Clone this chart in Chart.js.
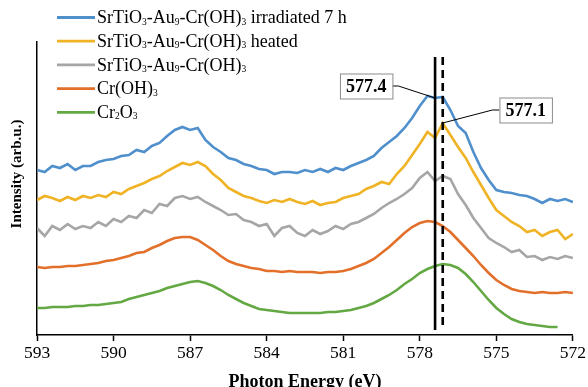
<!DOCTYPE html>
<html>
<head>
<meta charset="utf-8">
<title>Cr L-edge XANES</title>
<script src="https://cdn.jsdelivr.net/npm/chart.js@4.4.1/dist/chart.umd.min.js"></script>
<style>
  html, body { margin: 0; padding: 0; background: #fff; }
</style>
</head>
<body>
<canvas id="xanesChart" width="588" height="387"></canvas>
<script>
// Photon energy grid (eV), 0.3 eV steps from 593 down to 572
const energies = [
  593.0, 592.7, 592.4, 592.1, 591.8, 591.5, 591.2, 590.9, 590.6, 590.3,
  590.0, 589.7, 589.4, 589.1, 588.8, 588.5, 588.2, 587.9, 587.6, 587.3,
  587.0, 586.7, 586.4, 586.1, 585.8, 585.5, 585.2, 584.9, 584.6, 584.3,
  584.0, 583.7, 583.4, 583.1, 582.8, 582.5, 582.2, 581.9, 581.6, 581.3,
  581.0, 580.7, 580.4, 580.1, 579.8, 579.5, 579.2, 578.9, 578.6, 578.3,
  578.0, 577.7, 577.4, 577.1, 576.8, 576.5, 576.2, 575.9, 575.6, 575.3,
  575.0, 574.7, 574.4, 574.1, 573.8, 573.5, 573.2, 572.9, 572.6, 572.3,
  572.0
];

// Intensities (arb.u., stacked offsets as plotted)
const irradiated = [
  165, 163, 169, 167, 171, 165, 169, 169, 173, 175,
  176, 179, 180, 185, 183, 189, 192, 199, 205, 208,
  205, 207, 195, 188, 183, 177, 175, 171, 169, 166,
  165, 161, 163, 163, 162, 165, 163, 166, 163, 167,
  165, 169, 172, 175, 179, 187, 193, 199, 207, 217,
  229, 239, 237, 238, 225, 209, 202, 183, 167, 155,
  145, 143, 142, 140, 139, 136, 132, 136, 134, 136,
  133
];
const heated = [
  135, 139, 137, 134, 138, 135, 139, 137, 140, 138,
  143, 141, 146, 149, 152, 156, 159, 164, 168, 172,
  170, 173, 169, 161, 155, 147, 143, 139, 137, 134,
  132, 135, 133, 136, 133, 131, 134, 130, 132, 133,
  137, 139, 141, 146, 149, 153, 151, 161, 169, 180,
  191, 203, 197, 212, 200, 188, 177, 163, 150, 137,
  125, 119, 113, 109, 103, 105, 99, 103, 105, 96,
  101
];
const asPrepared = [
  107, 99, 109, 105, 111, 106, 109, 107, 113, 109,
  116, 113, 119, 117, 125, 122, 131, 129, 137, 139,
  136, 138, 133, 129, 125, 120, 121, 115, 113, 109,
  111, 99, 107, 109, 102, 99, 105, 101, 104, 109,
  106, 111, 113, 117, 121, 127, 132, 136, 141, 147,
  157, 163, 154, 159, 156, 141, 130, 117, 107, 97,
  92, 88, 83, 85, 78, 79, 75, 78, 76, 79,
  77
];
const crOH3 = [
  68, 67, 68, 68, 69, 69, 70, 71, 72, 74,
  75, 77, 79, 82, 83, 87, 90, 94, 97, 98,
  98, 95, 90, 85, 79, 74, 71, 69, 67, 66,
  64, 64, 63, 64, 63, 63, 63, 62, 63, 63,
  64, 66, 69, 72, 76, 82, 88, 95, 102, 108,
  112, 114, 113, 109, 103, 95, 87, 79, 70, 62,
  55, 50, 46, 44, 43, 42, 43, 42, 42, 43,
  42
];
const cr2O3 = [
  27, 27, 28, 28, 28, 29, 29, 30, 30, 31,
  32, 33, 36, 38, 40, 42, 44, 47, 49, 51,
  53, 54, 52, 49, 45, 40, 36, 32, 29, 26,
  25, 24, 23, 22, 22, 22, 22, 22, 23, 23,
  24, 25, 27, 29, 32, 36, 40, 45, 51, 56,
  62, 66, 69, 71, 70, 67, 61, 53, 44, 35,
  27, 21, 16, 13, 11, 10, 9, 8, 8, null,
  null
];

const seriesNames = [
  "SrTiO₃-Au₉-Cr(OH)₃ irradiated 7 h",
  "SrTiO₃-Au₉-Cr(OH)₃ heated",
  "SrTiO₃-Au₉-Cr(OH)₃",
  "Cr(OH)₃",
  "Cr₂O₃"
];
const seriesValues = [irradiated, heated, asPrepared, crOH3, cr2O3];
const seriesColors = ["#4f8fcc", "#efb325", "#a6a6a6", "#e2702b", "#63a843"];

// Peak marker positions (eV)
const solidLineEnergy = 577.4;
const dashedLineEnergy = 577.1;

const xTicks = [593, 590, 587, 584, 581, 578, 575, 572];

const SERIF = "'Liberation Serif', 'Times New Roman', serif";
const SUBSCRIPTS = "₀₁₂₃₄₅₆₇₈₉";

/**
 * Draw a label where unicode subscript digits are set small and lowered
 */
function drawChemText(ctx, text, x, y) {
  let cursor = x;
  for (const ch of text) {
    const sub = SUBSCRIPTS.indexOf(ch);
    if (sub >= 0) {
      ctx.font = "9.5px " + SERIF;
      ctx.fillText(String(sub), cursor, y + 3.5);
      cursor += ctx.measureText(String(sub)).width;
    } else {
      ctx.font = "18px " + SERIF;
      ctx.fillText(ch, cursor, y);
      cursor += ctx.measureText(ch).width;
    }
  }
}

/**
 * Vertical marker lines at the two peak energies
 */
const markerLines = {
  id: "markerLines",
  afterDatasetsDraw(chart) {
    const { ctx, scales: { x, y } } = chart;
    const top = y.getPixelForValue(278);
    const bottom = y.getPixelForValue(5);
    ctx.save();
    ctx.strokeStyle = "#000";
    ctx.lineWidth = 2.6;
    // solid line
    let px = x.getPixelForValue(solidLineEnergy);
    ctx.beginPath();
    ctx.moveTo(px, top);
    ctx.lineTo(px, bottom);
    ctx.stroke();
    // dashed line
    px = x.getPixelForValue(dashedLineEnergy);
    ctx.setLineDash([8, 5]);
    ctx.beginPath();
    ctx.moveTo(px, top);
    ctx.lineTo(px, bottom);
    ctx.stroke();
    ctx.restore();
  },
};

/**
 * Boxed value labels with leader lines to the peaks
 */
const calloutLabels = {
  id: "calloutLabels",
  afterDraw(chart) {
    const { ctx, scales: { x, y } } = chart;
    const callouts = [
      { text: "577.4", energy: solidLineEnergy, value: irradiated[energies.indexOf(solidLineEnergy)],
        boxE: 580.1, boxV: 249, side: "right" },
      { text: "577.1", energy: dashedLineEnergy, value: heated[energies.indexOf(dashedLineEnergy)],
        boxE: 573.85, boxV: 225, side: "left" },
    ];
    ctx.save();
    ctx.font = "bold 18px " + SERIF;
    ctx.textAlign = "center";
    ctx.textBaseline = "middle";
    callouts.forEach((c) => {
      const cx = x.getPixelForValue(c.boxE);
      const cy = y.getPixelForValue(c.boxV);
      const w = ctx.measureText(c.text).width + 12;
      const h = 25;
      const tx = x.getPixelForValue(c.energy);
      const ty = y.getPixelForValue(c.value);
      const edge = c.side === "right" ? cx + w / 2 : cx - w / 2;
      const elbow = c.side === "right" ? edge + 6 : edge - 7;
      ctx.strokeStyle = "#000";
      ctx.lineWidth = 1;
      ctx.beginPath();
      ctx.moveTo(edge, cy);
      ctx.lineTo(elbow, cy);
      ctx.lineTo(tx, ty);
      ctx.stroke();
      ctx.fillStyle = "#fff";
      ctx.fillRect(cx - w / 2, cy - h / 2, w, h);
      ctx.strokeStyle = "#8c8c8c";
      ctx.strokeRect(cx - w / 2 + 0.5, cy - h / 2 + 0.5, w, h);
      ctx.fillStyle = "#000";
      ctx.fillText(c.text, cx, cy + 1);
    });
    ctx.restore();
  },
};

/**
 * Legend drawn as a single column at the top left
 */
const columnLegend = {
  id: "columnLegend",
  afterDraw(chart) {
    const { ctx } = chart;
    ctx.save();
    ctx.textAlign = "left";
    ctx.textBaseline = "middle";
    seriesNames.forEach((name, i) => {
      const rowY = 17.5 + i * 23.7;
      ctx.strokeStyle = seriesColors[i];
      ctx.lineWidth = 2.8;
      ctx.beginPath();
      ctx.moveTo(57, rowY);
      ctx.lineTo(95, rowY);
      ctx.stroke();
      ctx.fillStyle = "#000";
      drawChemText(ctx, name, 97, rowY + 1);
    });
    ctx.restore();
  },
};

/**
 * Rotated y axis title
 */
const yTitle = {
  id: "yTitle",
  afterDraw(chart) {
    const { ctx } = chart;
    ctx.save();
    ctx.translate(17, 174);
    ctx.rotate(-Math.PI / 2);
    ctx.font = "bold 15px " + SERIF;
    ctx.fillStyle = "#000";
    ctx.textAlign = "center";
    ctx.textBaseline = "middle";
    ctx.fillText("Intensity (arb.u.)", 0, 0);
    ctx.restore();
  },
};

document.addEventListener("DOMContentLoaded", function () {
  const ctx = document.getElementById("xanesChart").getContext("2d");

  const datasets = seriesValues.map((vals, i) => ({
    label: seriesNames[i],
    data: energies.map((e, j) => ({ x: e, y: vals[j] })),
    borderColor: seriesColors[i],
    backgroundColor: seriesColors[i],
    borderWidth: 2.6,
    pointRadius: 0,
    tension: 0,
    fill: false,
  }));

  new Chart(ctx, {
    type: "line",
    data: { datasets: datasets },
    options: {
      responsive: false,
      animation: false,
      layout: { padding: { top: 42, right: 13, left: 0, bottom: 0 } },
      plugins: {
        legend: { display: false },
        tooltip: { enabled: false },
      },
      scales: {
        x: {
          type: "linear",
          reverse: true,
          min: 572,
          max: 593,
          afterBuildTicks: (axis) => {
            axis.ticks = xTicks.map((v) => ({ value: v }));
          },
          afterFit: (axis) => {
            axis.height = 52;
          },
          ticks: {
            color: "#000",
            padding: 2,
            maxRotation: 0,
            font: { family: SERIF, size: 17.5 },
          },
          grid: {
            display: true,
            drawOnChartArea: false,
            drawTicks: true,
            tickLength: 6,
            tickColor: "#000",
            tickWidth: 1.5,
          },
          border: { display: true, color: "#000", width: 1.5 },
          title: {
            display: true,
            text: "Photon Energy (eV)",
            color: "#000",
            font: { family: SERIF, size: 18, weight: "bold", lineHeight: 0.5 },
            padding: 0,
          },
        },
        y: {
          min: 0,
          max: 293,
          afterFit: (axis) => {
            axis.width = 37;
          },
          ticks: { display: false },
          grid: { display: false },
          border: { display: true, color: "#000", width: 1.5 },
        },
      },
    },
    plugins: [markerLines, calloutLabels, columnLegend, yTitle],
  });
});
</script>
</body>
</html>
